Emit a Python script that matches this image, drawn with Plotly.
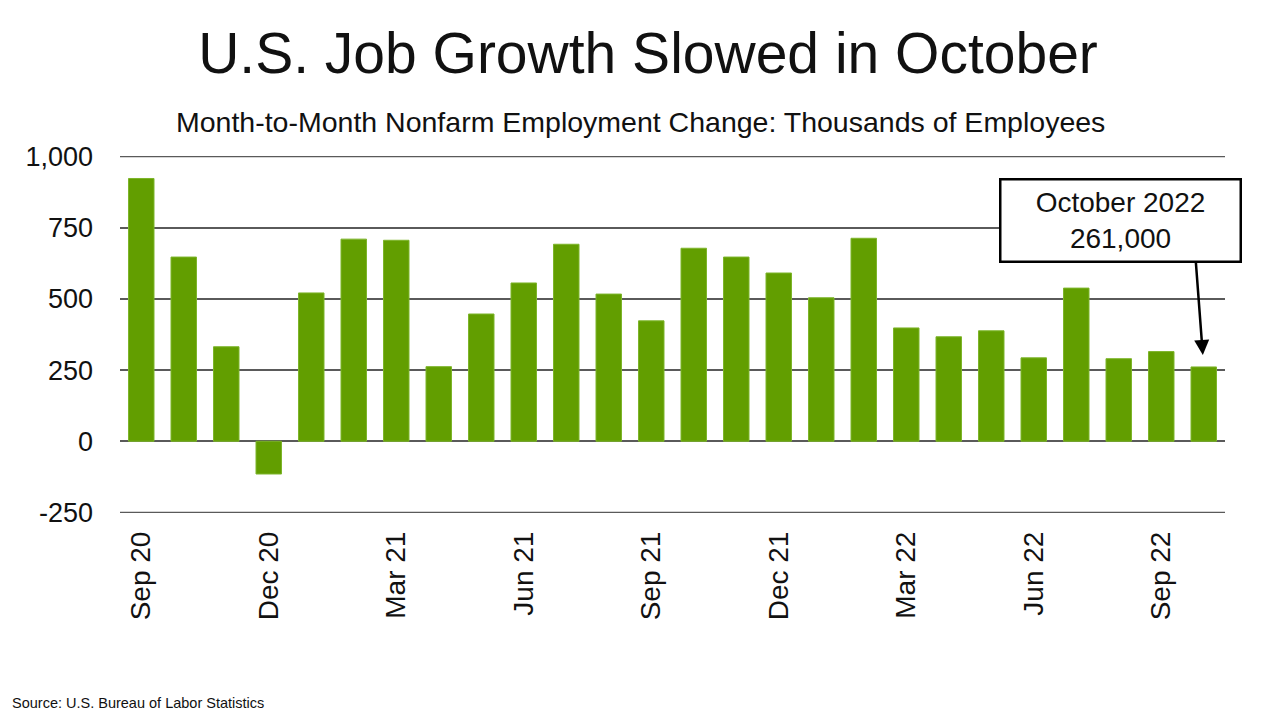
import plotly.graph_objects as go

# Month-to-month nonfarm employment change (thousands)
months = [
    "Sep 20", "Oct 20", "Nov 20", "Dec 20", "Jan 21", "Feb 21", "Mar 21",
    "Apr 21", "May 21", "Jun 21", "Jul 21", "Aug 21", "Sep 21", "Oct 21",
    "Nov 21", "Dec 21", "Jan 22", "Feb 22", "Mar 22", "Apr 22", "May 22",
    "Jun 22", "Jul 22", "Aug 22", "Sep 22", "Oct 22",
]
change = [
    923, 647, 332, -115, 521, 710, 706, 262, 447, 556, 692, 517, 423,
    678, 647, 591, 504, 713, 398, 367, 388, 293, 538, 290, 315, 261,
]
shown_ticks = ["Sep 20", "Dec 20", "Mar 21", "Jun 21", "Sep 21", "Dec 21",
               "Mar 22", "Jun 22", "Sep 22"]
y_ticks = [-250, 0, 250, 500, 750, 1000]
y_tick_text = ["-250", "0", "250", "500", "750", "1,000"]

font = "Liberation Sans, Arial, sans-serif"
green = "#629E00"
grid = "#5a5a5a"

fig = go.Figure()
fig.add_trace(go.Bar(
    x=months,
    y=change,
    marker=dict(color=green, line=dict(color="#7DB52A", width=1)),
    showlegend=False,
))

# plotly skips gridlines on the plot edges, so draw top/bottom ones by hand
for yv in (y_ticks[0], y_ticks[-1]):
    fig.add_shape(type="line", xref="paper", yref="y", x0=0, x1=1,
                  y0=yv, y1=yv, line=dict(color=grid, width=1.5), layer="below")

# callout box for the latest month
fig.add_annotation(
    x=23.05, y=776, xref="x", yref="y",
    text="October 2022<br>261,000",
    showarrow=False,
    font=dict(family=font, size=28, color="#111111"),
    bgcolor="white", bordercolor="black", borderwidth=2.5,
    width=236, height=78,
)
# arrow pointing at the October 2022 bar
fig.add_annotation(
    x=months[-1], y=change[-1], xref="x", yref="y",
    text="", showarrow=True,
    arrowhead=2, arrowsize=1.2, arrowwidth=2.5, arrowcolor="black",
    ax=-8, ay=-106, standoff=12,
)

fig.add_annotation(
    x=0.4706, y=1.095, xref="paper", yref="paper",
    text="Month-to-Month Nonfarm Employment Change: Thousands of Employees",
    showarrow=False, xanchor="center", yanchor="middle",
    font=dict(family=font, size=28.5, color="#111111"),
)
fig.add_annotation(
    x=-0.1, y=-0.532, xref="paper", yref="paper",
    text="Source: U.S. Bureau of Labor Statistics",
    showarrow=False, xanchor="left", yanchor="middle",
    font=dict(family=font, size=14.5, color="#111111"),
)

fig.update_layout(
    width=1280, height=720,
    paper_bgcolor="white", plot_bgcolor="white",
    margin=dict(l=112, r=63, t=148, b=215),
    bargap=0.4,
    title=dict(
        text="U.S. Job Growth Slowed in October",
        x=0.5, xanchor="center", y=1 - 45 / 720, yanchor="middle",
        font=dict(family=font, size=57, color="#111111"),
    ),
    xaxis=dict(
        tickmode="array", tickvals=shown_ticks, ticktext=shown_ticks,
        tickangle=-90, showgrid=False, showline=False, ticks="",
        ticklabelstandoff=12,
        range=[-0.5, len(months) - 0.5],
        tickfont=dict(family=font, size=28, color="#111111"),
    ),
    yaxis=dict(
        range=[-252, 1002], tickvals=y_ticks, ticktext=y_tick_text,
        showgrid=True, gridcolor=grid, gridwidth=1.5,
        zeroline=True, zerolinecolor=grid, zerolinewidth=1.5,
        ticks="", ticklabelstandoff=26,
        tickfont=dict(family=font, size=27, color="#111111"),
    ),
)

fig.write_html("out.html")
